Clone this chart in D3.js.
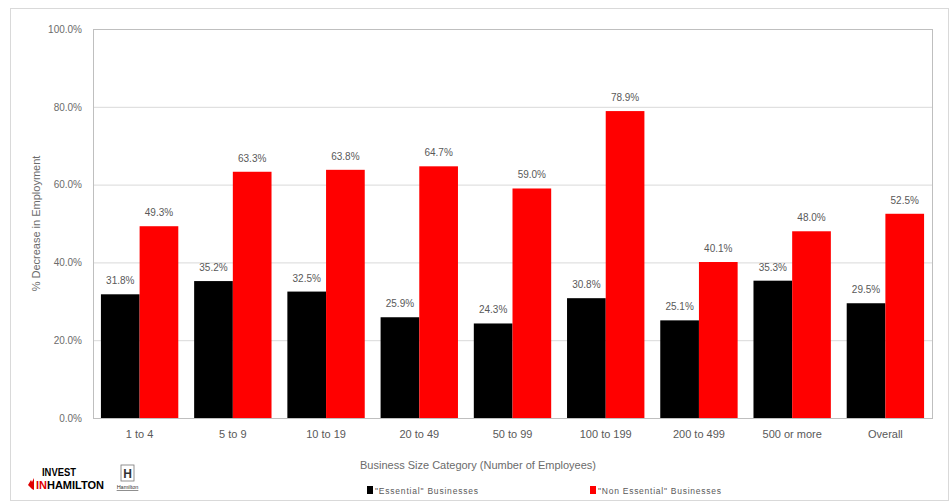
<!DOCTYPE html>
<html><head><meta charset="utf-8">
<script src="https://cdn.jsdelivr.net/npm/d3@7"></script>
<style>body{margin:0;background:#fff}svg{display:block}</style>
</head><body>
<svg id="c" width="952" height="504"></svg>
<script>
const categories = ["1 to 4","5 to 9","10 to 19","20 to 49","50 to 99","100 to 199","200 to 499","500 or more","Overall"];
const essential = [31.8,35.2,32.5,25.9,24.3,30.8,25.1,35.3,29.5];
const nonEssential = [49.3,63.3,63.8,64.7,59.0,78.9,40.1,48.0,52.5];
const seriesNames = ["\"Essential\" Businesses","\"Non Essential\" Businesses"];
const seriesColors = ["#000000","#ff0000"];
const yTicks = [0,20,40,60,80,100];

const svg = d3.select("#c");
const font = "Liberation Sans, Arial, sans-serif";
// outer frame
svg.append("rect").attr("x",10.5).attr("y",8.5).attr("width",938).attr("height",492)
  .attr("fill","none").attr("stroke","#d9d9d9");

const m = {l:93, t:29, r:932, b:418};
const x0 = d3.scaleBand().domain(categories).range([m.l,m.r]).paddingInner(0.17).paddingOuter(0.085);
const x1 = d3.scaleBand().domain([0,1]).range([0,x0.bandwidth()]);
const y = d3.scaleLinear().domain([0,100]).range([m.b,m.t]);

// gridlines
svg.append("g").selectAll("line").data(yTicks).join("line")
  .attr("x1",m.l).attr("x2",m.r).attr("y1",d=>y(d)+0.5).attr("y2",d=>y(d)+0.5)
  .attr("stroke","#d9d9d9");
// plot border
svg.append("rect").attr("x",m.l+0.5).attr("y",m.t+0.5).attr("width",m.r-m.l).attr("height",m.b-m.t)
  .attr("fill","none").attr("stroke","#bfbfbf");

// y axis
const ya = d3.axisLeft(y).tickValues(yTicks).tickFormat(d=>d.toFixed(1)+"%").tickSize(0).tickPadding(11);
const yg = svg.append("g").attr("transform",`translate(${m.l},0)`).call(ya);
yg.select(".domain").attr("stroke","#bfbfbf");
yg.selectAll("text").attr("font-family",font).attr("font-size",10).attr("fill","#6b6b6b");

// x axis
const xa = d3.axisBottom(x0).tickSize(0).tickPadding(12);
const xg = svg.append("g").attr("transform",`translate(0,${m.b})`).call(xa);
xg.select(".domain").attr("stroke","#bfbfbf");
xg.selectAll("text").attr("font-family",font).attr("font-size",11).attr("fill","#595959");

// bars
const data = categories.map((c,i)=>({c, v:[essential[i],nonEssential[i]]}));
const grp = svg.append("g").selectAll("g").data(data).join("g")
  .attr("transform",d=>`translate(${x0(d.c)},0)`);
grp.selectAll("rect").data(d=>d.v.map((v,k)=>({v,k}))).join("rect")
  .attr("x",d=>x1(d.k)).attr("width",x1.bandwidth())
  .attr("y",d=>y(d.v)).attr("height",d=>y(0)-y(d.v))
  .attr("fill",d=>seriesColors[d.k]);
grp.selectAll("text").data(d=>d.v.map((v,k)=>({v,k}))).join("text")
  .attr("x",d=>x1(d.k)+x1.bandwidth()/2).attr("y",d=>y(d.v)-10)
  .attr("text-anchor","middle").attr("font-family",font).attr("font-size",10).attr("fill","#595959")
  .text(d=>d.v.toFixed(1)+"%");

// axis titles
svg.append("text").attr("transform",`translate(40,${(m.t+m.b)/2}) rotate(-90)`)
  .attr("text-anchor","middle").attr("font-family",font).attr("font-size",11).attr("fill","#6b6b6b")
  .text("% Decrease in Employment");
svg.append("text").attr("x",478).attr("y",469).attr("text-anchor","middle")
  .attr("font-family",font).attr("font-size",11).attr("fill","#6b6b6b")
  .text("Business Size Category (Number of Employees)");

// legend
const lx = [367,590];
const lw = [103,123];
const lg = svg.append("g").selectAll("g").data(seriesNames).join("g")
  .attr("transform",(d,i)=>`translate(${lx[i]},490)`);
lg.append("rect").attr("x",0).attr("y",-4).attr("width",6).attr("height",8).attr("fill",(d,i)=>seriesColors[i]);
lg.append("text").attr("x",8).attr("y",3.5).attr("font-family",font).attr("font-size",8.5).attr("fill","#595959")
  .attr("textLength",(d,i)=>lw[i]).attr("lengthAdjust","spacing").text(d=>d);

// logo
const logo = svg.append("g").attr("font-family","Liberation Sans Narrow, Liberation Sans, Arial, sans-serif").attr("font-weight","bold");
logo.append("text").attr("x",42).attr("y",476).attr("font-size",11).attr("fill","#000").attr("textLength",34).attr("lengthAdjust","spacingAndGlyphs").text("INVEST");
logo.append("text").attr("x",36).attr("y",489).attr("font-size",11).attr("textLength",68).attr("lengthAdjust","spacingAndGlyphs")
  .html('<tspan fill="#e00000">IN</tspan><tspan fill="#000">HAMILTON</tspan>');
logo.append("path").attr("d","M28 485 l3 -5 l1 2 l2 -4 l0 12 l-2 -1 z").attr("fill","#e00000");
logo.append("rect").attr("x",121).attr("y",465).attr("width",13).attr("height",16).attr("fill","none").attr("stroke","#777").attr("stroke-width",0.8);
logo.append("text").attr("x",127.5).attr("y",478).attr("text-anchor","middle").attr("font-size",12).attr("fill","#333").text("H");
logo.append("text").attr("x",127.5).attr("y",489).attr("text-anchor","middle").attr("font-size",5.5).attr("font-weight","normal").attr("fill","#333").attr("text-decoration","underline").text("Hamilton");
</script>
</body></html>
